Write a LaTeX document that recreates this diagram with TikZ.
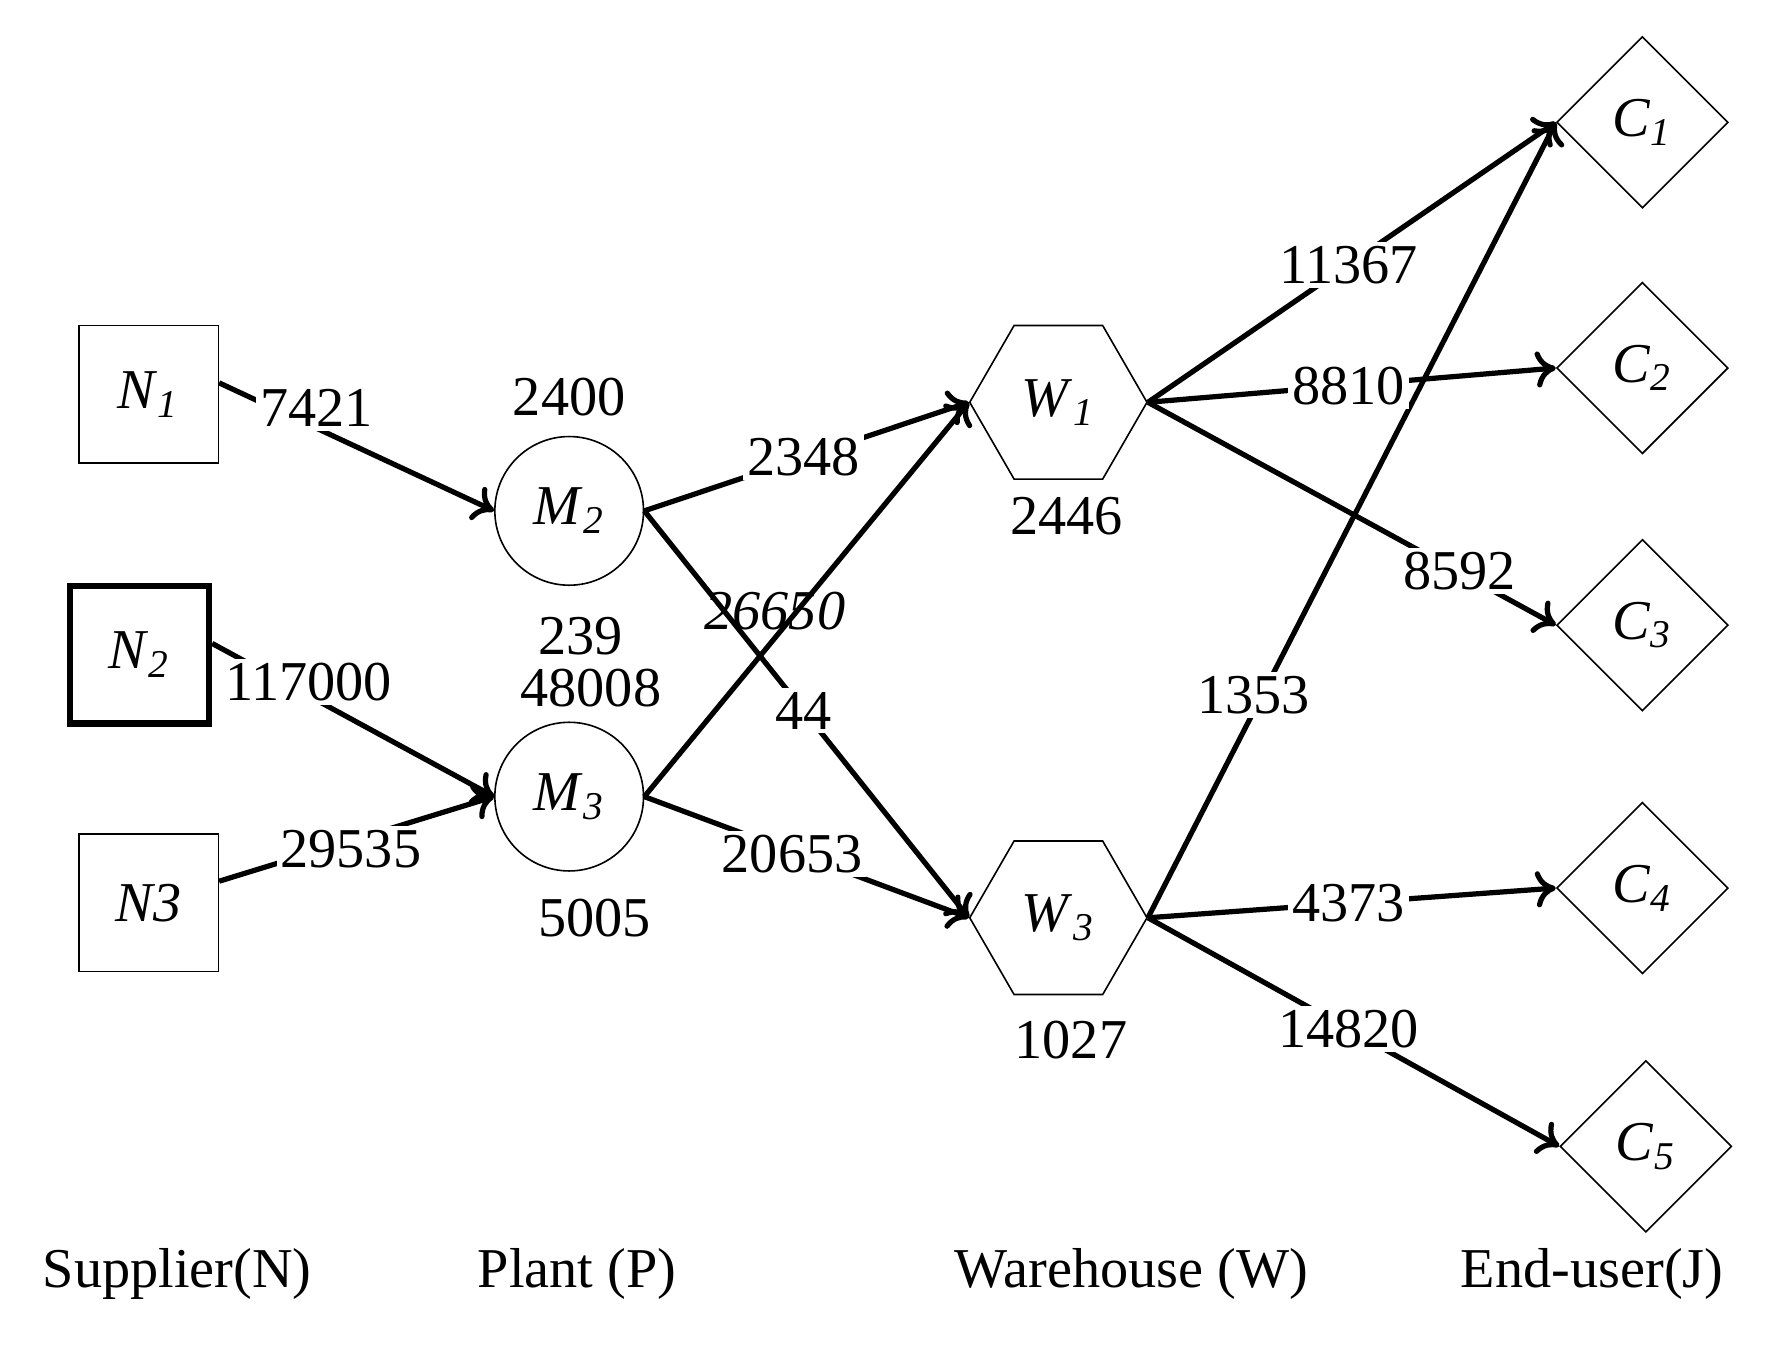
\documentclass[tikz,border=0pt]{standalone}
\usepackage{fontspec}
\setmainfont{Liberation Serif}
\usetikzlibrary{shapes.geometric,arrows.meta}
\begin{document}
\begin{tikzpicture}[x=0.01cm,y=-0.01cm,font=\fontsize{14}{16}\selectfont,
  sq/.style={draw,minimum width=1.22cm,minimum height=1.2cm,inner sep=0},
  ci/.style={draw,circle,minimum size=1.3cm,inner sep=0},
  hx/.style={draw,regular polygon,regular polygon sides=6,minimum size=1.55cm,inner sep=0},
  di/.style={draw,diamond,minimum width=1.5cm,minimum height=1.5cm,inner sep=0},
  ed/.style={line width=1.3pt,-{To[length=5pt,width=9pt]}},
  lb/.style={fill=white,inner sep=1pt}]
\useasboundingbox (0,0) rectangle (1560,1177);
\node[sq] (N1) at (130,345) {\textit{N}\textsubscript{\textit{1}}};
\node[sq,line width=1.5pt] (N2) at (122,573) {\textit{N}\textsubscript{\textit{2}}};
\node[sq] (N3) at (130,790) {\textit{N3}};
\node[ci] (M2) at (498,447) {\textit{M}\textsubscript{\textit{2}}};
\node[ci] (M3) at (498,697) {\textit{M}\textsubscript{\textit{3}}};
\node[hx] (W1) at (926,352) {\textit{W}\textsubscript{\textit{1}}};
\node[hx] (W3) at (926,803) {\textit{W}\textsubscript{\textit{3}}};
\node[di] (C1) at (1437,107) {\textit{C}\textsubscript{\textit{1}}};
\node[di] (C2) at (1437,322) {\textit{C}\textsubscript{\textit{2}}};
\node[di] (C3) at (1437,547) {\textit{C}\textsubscript{\textit{3}}};
\node[di] (C4) at (1437,777) {\textit{C}\textsubscript{\textit{4}}};
\node[di] (C5) at (1440,1003) {\textit{C}\textsubscript{\textit{5}}};

\draw[ed] (N1.east) ++(0,-10) coordinate (a1) (a1) -- (M2.west);
\draw[ed] (N2.east) ++(0,-10) coordinate (a2) (a2) -- (M3.west);
\draw[ed] (N3) -- (M3.west);
\draw[ed] (M2.east) -- (W1.west);
\draw[ed] (M2.east) -- (W3.west);
\draw[ed] (M3.east) -- (W1.west);
\draw[ed] (M3.east) -- (W3.west);
\draw[ed] (W1.east) -- (C1.west);
\draw[ed] (W1.east) -- (C2.west);
\draw[ed] (W1.east) -- (C3.west);
\draw[ed] (W3.east) -- (C1.west);
\draw[ed] (W3.east) -- (C4.west);
\draw[ed] (W3.east) -- (C5.west);

\node[lb] (l1) at (277,357) {7421};
\node[lb] (l2) at (270,597) {117000};
\node[lb] (l3) at (307,743) {29535};
\node[lb] (l4) at (703,400) {2348};
\node[lb] (l5) at (703,622) {44};
\node (l6) at (678,535) {\textit{26650}};
\node[lb] (l7) at (693,747) {20653};
\node[lb] (l8) at (1180,232) {11367};
\node[lb] (l9) at (1180,338) {8810};
\node[lb] (l10) at (1277,500) {8592};
\node[lb] (l11) at (1097,608) {1353};
\node[lb] (l12) at (1180,790) {4373};
\node[lb] (l13) at (1180,900) {14820};

\node (t1) at (498,347) {2400};
\node (t2) at (508,557) {239};
\node (t3) at (517,602) {48008};
\node (t4) at (520,803) {5005};
\node (t5) at (933,452) {2446};
\node (t6) at (937,910) {1027};

\node (b1) at (155,1115) {Supplier(N)};
\node (b2) at (505,1115) {Plant (P)};
\node (b3) at (990,1115) {Warehouse (W)};
\node (b4) at (1393,1115) {End-user(J)};
\end{tikzpicture}
\end{document}
